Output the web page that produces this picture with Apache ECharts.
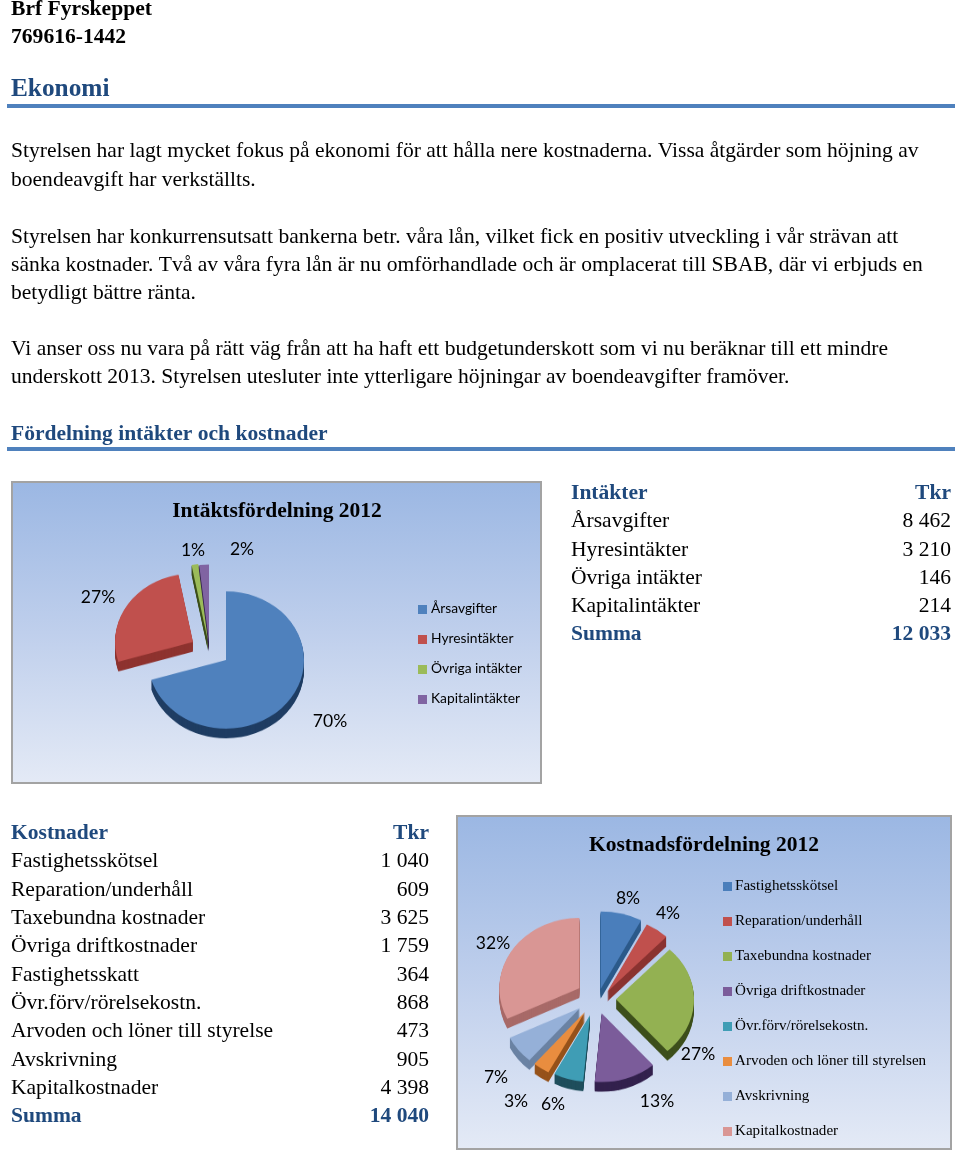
<!DOCTYPE html>
<html><head><meta charset="utf-8">
<style>html,body{margin:0;padding:0;width:960px;height:1151px;overflow:hidden;background:#fff}
#wrap{position:relative;width:960px;height:1151px;overflow:hidden}
#main{position:absolute;left:0;top:0;width:960px;height:1151px}
#pies{position:absolute;left:0;top:0;width:960px;height:1308px;transform:scale(1,0.88);transform-origin:0 0;pointer-events:none}
</style>
<script src="https://cdn.jsdelivr.net/npm/echarts@6/dist/echarts.min.js"></script>
</head><body><div id="wrap"><div id="main"></div><div id="pies"></div></div>
<script>
const paragraphs = [
 ["Styrelsen har lagt mycket fokus på ekonomi för att hålla nere kostnaderna. Vissa åtgärder som höjning av",150],
 ["boendeavgift har verkställts.",179],
 ["Styrelsen har konkurrensutsatt bankerna betr. våra lån, vilket fick en positiv utveckling i vår strävan att",236],
 ["sänka kostnader. Två av våra fyra lån är nu omförhandlade och är omplacerat till SBAB, där vi erbjuds en",264],
 ["betydligt bättre ränta.",292],
 ["Vi anser oss nu vara på rätt väg från att ha haft ett budgetunderskott som vi nu beräknar till ett mindre",348],
 ["underskott 2013. Styrelsen utesluter inte ytterligare höjningar av boendeavgifter framöver.",376]
];
const incomeCats = ["Årsavgifter","Hyresintäkter","Övriga intäkter","Kapitalintäkter"];
const incomeVals = [8462,3210,146,214];
const incomeTotal = 12033;
const costCats = ["Fastighetsskötsel","Reparation/underhåll","Taxebundna kostnader","Övriga driftkostnader","Fastighetsskatt","Övr.förv/rörelsekostn.","Arvoden och löner till styrelse","Avskrivning","Kapitalkostnader"];
const costVals = [1040,609,3625,1759,364,868,473,905,4398];
const costTotal = 14040;
const costPieCats = ["Fastighetsskötsel","Reparation/underhåll","Taxebundna kostnader","Övriga driftkostnader","Övr.förv/rörelsekostn.","Arvoden och löner till styrelsen","Avskrivning","Kapitalkostnader"];
const costPieVals = [1040,609,3625,1759,868,473,905,4398];
const incomeColors = ["#4f81bd","#c0504d","#9bbb59","#8064a2"];
const incomeSides = ["#1f3d63","#8e332f","#3d4f1b","#33214d"];
const costColors = ["#4a7ebb","#c0504d","#93b152","#7b5c9a","#3f9db5","#e98d3f","#95b0d8","#d99694"];
const costSides = ["#2c5a8a","#8a3230","#3d4f1b","#33214d","#1f4e5c","#96521a","#6a82a3","#a86a68"];

const K = 0.88, SERIF = '"Liberation Serif"', SANS = 'Lato';
const BLUE = '#1f497d', BODY = 21.55, DY = 1;
const g = [];
function txt(t,x,y,size,o){o=o||{};g.push({type:'text',silent:true,z:o.z||5,style:{text:t,x:x,y:y,
  font:(o.bold?'bold ':'')+size+'px '+(o.fam||SERIF),fill:o.fill||'#000',textAlign:o.align||'left',textVerticalAlign:'middle'}});}
function rect(x,y,w,h,fill,o){o=o||{};g.push({type:'rect',silent:true,z:o.z||1,shape:{x:x,y:y,width:w,height:h},style:{fill:fill,stroke:o.stroke||null,lineWidth:o.lw||0}});}
const fmt = v => String(v).replace(/\B(?=(\d{3})+$)/g,' ');
const panelFill = () => new echarts.graphic.LinearGradient(0,0,0,1,[{offset:0,color:'#9bb7e3'},{offset:0.5,color:'#bfcfec'},{offset:1,color:'#e4eaf6'}]);

txt("Brf Fyrskeppet",11,8+DY,21.6,{bold:true});
txt("769616-1442",11,36+DY,21.6,{bold:true});
txt("Ekonomi",11,88+DY,25.3,{bold:true,fill:BLUE});
rect(7,104,948,4,'#4f81bd');
paragraphs.forEach(p=>txt(p[0],11,p[1]+DY,BODY));
txt("Fördelning intäkter och kostnader",11,433+DY,BODY,{bold:true,fill:BLUE});
rect(7,447,948,4,'#4f81bd');

// income table
const tt=(l,r,lx,rx,y,o)=>{txt(l,lx,y+DY,BODY,o);txt(r,rx,y+DY,BODY,Object.assign({align:'right'},o||{}));};
const head={bold:true,fill:BLUE};
tt("Intäkter","Tkr",571,951,492,head);
const incY=[520,549,577,605];
incomeCats.forEach((c,i)=>tt(c,fmt(incomeVals[i]),571,951,incY[i]));
tt("Summa",fmt(incomeTotal),571,951,633,head);
// cost table
tt("Kostnader","Tkr",11,429,832,head);
const costY=[860,889,917,945,974,1002,1030,1059,1087];
costCats.forEach((c,i)=>tt(c,fmt(costVals[i]),11,429,costY[i]));
tt("Summa",fmt(costTotal),11,429,1115,head);

// panels
rect(12,482,529,301,panelFill(),{stroke:'#a3a3a3',lw:2});
rect(457,816,494,333,panelFill(),{stroke:'#a3a3a3',lw:2});
txt("Intäktsfördelning 2012",277,511,21.5,{bold:true,align:'center'});
txt("Kostnadsfördelning 2012",704,845,21.5,{bold:true,align:'center'});
// legends
incomeCats.forEach((c,i)=>{const y=609+30*i;rect(418,y-4,9,9,incomeColors[i],{z:3});txt(c,431,y,13.8,{fam:SANS});});
costPieCats.forEach((c,i)=>{const y=886+35*i;rect(723,y-4,9,9,costColors[i],{z:3});txt(c,735,y,15.1);});
// percent labels
const pct=(vals,i)=>Math.round(vals[i]/vals.reduce((a,b)=>a+b,0)*100)+'%';
const incLabelPos=[[330,721],[98,597],[193,550],[242,549]];
incLabelPos.forEach((p,i)=>txt(pct(incomeVals,i),p[0],p[1],17.5,{fam:SANS,align:'center'}));
const costLabelPos=[[628,898],[668,913],[698,1054],[657,1101],[553,1104],[516,1101],[496,1077],[493,943]];
costLabelPos.forEach((p,i)=>txt(pct(costPieVals,i),p[0],p[1],17.5,{fam:SANS,align:'center'}));

const main = echarts.init(document.getElementById('main'));
main.setOption({animation:false,graphic:{elements:g}});

// exploded, tilted pies: each slice is a pie series with its own centre
const series=[];
function slice(cats,vals,idx,cx,cy,r,color,z){
  series.push({type:'pie',silent:true,animation:false,z:z,startAngle:90,clockwise:true,
    center:[cx,cy/K],radius:[0,r],label:{show:false},labelLine:{show:false},emphasis:{disabled:true},
    data:vals.map((v,i)=>({value:v,name:cats[i],itemStyle:{color:i===idx?color:'rgba(0,0,0,0)'}}))});
}
function exploded(cats,vals,tops,sides,geom,depth){
  geom.forEach((s,i)=>{
    for(let d=depth;d>=1;d--) slice(cats,vals,i,s[0],s[1]+d*K,s[2],sides[i],1);
  });
  geom.forEach((s,i)=>slice(cats,vals,i,s[0],s[1],s[2],tops[i],2));
}
const incGeom=[[226,660,78],[193,642,78],[208,641,88],[209,642,88]];
const costGeom=[[600.7,989,88],[607.3,991.7,86],[616,999.3,78],[601.7,1013.3,78],[590,1015,76],[585,1011.7,78],[580,1008,78],[579.3,988.3,80]];
exploded(incomeCats,incomeVals,incomeColors,incomeSides,incGeom,11);
exploded(costPieCats,costPieVals,costColors,costSides,costGeom,11);
const pies = echarts.init(document.getElementById('pies'));
pies.setOption({animation:false,series:series});
</script></body></html>
